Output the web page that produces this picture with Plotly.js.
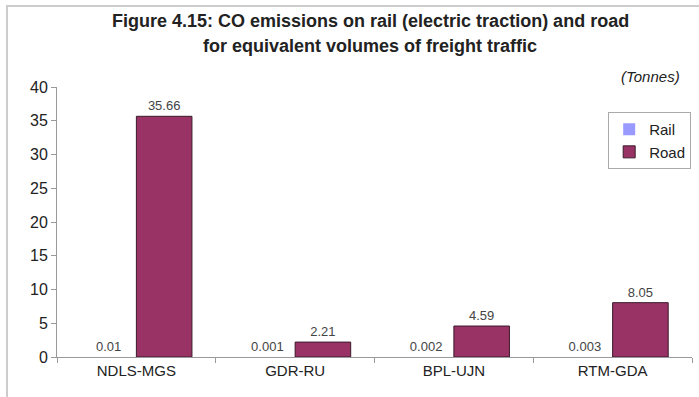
<!DOCTYPE html>
<html>
<head>
<meta charset="utf-8">
<script src="https://cdn.plot.ly/plotly-3.0.1.min.js"></script>
<style>html,body{margin:0;padding:0;background:#fff;}#chart{width:699px;height:397px;}</style>
</head>
<body>
<div id="chart"></div>
<script>
const categories = ["NDLS-MGS", "GDR-RU", "BPL-UJN", "RTM-GDA"];
const railValues = [0.01, 0.001, 0.002, 0.003];
const roadValues = [35.66, 2.21, 4.59, 8.05];
const railLabels = ["0.01", "0.001", "0.002", "0.003"];
const roadLabels = ["35.66", "2.21", "4.59", "8.05"];
const titleLines = [
  "Figure 4.15: CO emissions on rail (electric traction) and road",
  "for equivalent volumes of freight traffic"
];

const labelFont = {family: "Arial, Liberation Sans, sans-serif", size: 13, color: "#444"};

const traces = [
  {
    type: "bar", name: "Rail", x: categories, y: railValues,
    text: railLabels, textposition: "outside", textfont: labelFont, cliponaxis: false,
    marker: {color: "#9999ff", line: {color: "#333", width: 0}}
  },
  {
    type: "bar", name: "Road", x: categories, y: roadValues,
    text: roadLabels, textposition: "outside", textfont: labelFont, cliponaxis: false,
    marker: {color: "#993366", line: {color: "#3a1a2a", width: 1}}
  }
];

const titleFont = {family: "Arial, Liberation Sans, sans-serif", size: 18, color: "#222"};

const layout = {
  width: 699, height: 397,
  margin: {l: 57, r: 7, t: 87, b: 40},
  paper_bgcolor: "#fff", plot_bgcolor: "#fff",
  font: {family: "Arial, Liberation Sans, sans-serif", color: "#222"},
  barmode: "group", bargap: 0.3, bargroupgap: 0,
  showlegend: true,
  xaxis: {
    showline: true, linecolor: "#999", linewidth: 1,
    ticks: "outside", tickson: "boundaries", ticklen: 5, tickcolor: "#999",
    tickfont: {size: 15, color: "#222"}, showgrid: false, zeroline: false
  },
  yaxis: {
    range: [0, 40], dtick: 5, showline: true, linecolor: "#999", linewidth: 1,
    ticks: "outside", ticklen: 5, tickcolor: "#999",
    tickfont: {size: 16, color: "#222"}, showgrid: false, zeroline: false
  },
  legend: {
    x: 0.868, y: 0.907, xanchor: "left", yanchor: "top",
    bordercolor: "#aaa", borderwidth: 1, bgcolor: "#fff",
    font: {size: 15, color: "#222"}, itemwidth: 30, tracegroupgap: 4
  },
  annotations: [
    {text: "<b>" + titleLines[0] + "</b>", xref: "paper", yref: "paper", x: 0.493, y: 1.244,
     xanchor: "center", yanchor: "middle", showarrow: false, font: titleFont},
    {text: "<b>" + titleLines[1] + "</b>", xref: "paper", yref: "paper", x: 0.493, y: 1.152,
     xanchor: "center", yanchor: "middle", showarrow: false, font: titleFont},
    {text: "<i>(Tonnes)</i>", xref: "paper", yref: "paper", x: 0.935, y: 1.04,
     xanchor: "center", yanchor: "middle", showarrow: false,
     font: {size: 15, color: "#222"}}
  ],
  shapes: [
    {type: "rect", xref: "paper", yref: "paper", x0: -0.0787, x1: 1.2, y0: -0.3, y1: 1.3,
     line: {color: "#cccccc", width: 2}, fillcolor: "rgba(0,0,0,0)", layer: "below"}
  ]
};

Plotly.newPlot("chart", traces, layout, {displayModeBar: false, staticPlot: true});
</script>
</body>
</html>
